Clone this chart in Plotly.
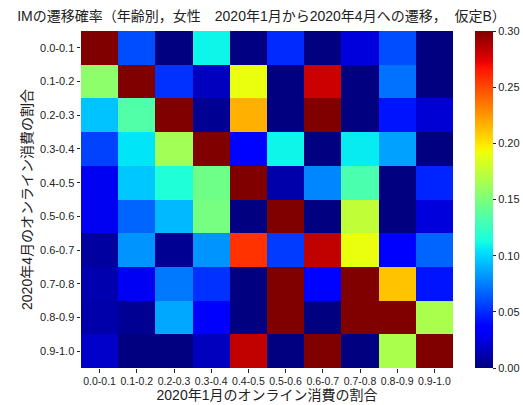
import numpy as np
import plotly.graph_objects as go

# Share-of-online-spending bins (Jan 2020 -> columns, Apr 2020 -> rows)
bins_jan = ["0.0-0.1", "0.1-0.2", "0.2-0.3", "0.3-0.4", "0.4-0.5",
            "0.5-0.6", "0.6-0.7", "0.7-0.8", "0.8-0.9", "0.9-1.0"]
bins_apr = ["0.0-0.1", "0.1-0.2", "0.2-0.3", "0.3-0.4", "0.4-0.5",
            "0.5-0.6", "0.6-0.7", "0.7-0.8", "0.8-0.9", "0.9-1.0"]

# Transition probabilities, one list per April bin
row_00_01 = [0.33, 0.060, 0.000, 0.110, 0.000, 0.050, 0.000, 0.024, 0.060, 0.000]
row_01_02 = [0.156, 0.33, 0.052, 0.016, 0.190, 0.000, 0.280, 0.000, 0.071, 0.000]
row_02_03 = [0.095, 0.134, 0.33, 0.005, 0.217, 0.000, 0.33, 0.000, 0.043, 0.022]
row_03_04 = [0.057, 0.105, 0.164, 0.33, 0.038, 0.110, 0.000, 0.107, 0.085, 0.000]
row_04_05 = [0.030, 0.096, 0.116, 0.145, 0.33, 0.011, 0.077, 0.132, 0.000, 0.048]
row_05_06 = [0.030, 0.067, 0.092, 0.148, 0.000, 0.33, 0.000, 0.175, 0.000, 0.024]
row_06_07 = [0.008, 0.081, 0.005, 0.081, 0.257, 0.055, 0.283, 0.190, 0.035, 0.067]
row_07_08 = [0.012, 0.030, 0.073, 0.052, 0.000, 0.33, 0.038, 0.33, 0.211, 0.043]
row_08_09 = [0.011, 0.005, 0.087, 0.035, 0.000, 0.33, 0.000, 0.33, 0.33, 0.167]
row_09_10 = [0.019, 0.000, 0.000, 0.016, 0.283, 0.000, 0.33, 0.000, 0.167, 0.33]

z = [row_00_01, row_01_02, row_02_03, row_03_04, row_04_05,
     row_05_06, row_06_07, row_07_08, row_08_09, row_09_10]

cb_ticks = [0.00, 0.05, 0.10, 0.15, 0.20, 0.25, 0.30]

# Classic "jet" colormap built from its piecewise-linear channel definitions
red_pts = ([0, 0.35, 0.66, 0.89, 1], [0, 0, 1, 1, 0.5])
green_pts = ([0, 0.125, 0.375, 0.64, 0.91, 1], [0, 0, 1, 1, 0, 0])
blue_pts = ([0, 0.11, 0.34, 0.65, 1], [0.5, 1, 1, 0, 0])
knots = sorted(set(red_pts[0] + green_pts[0] + blue_pts[0]))
jet = []
for k in knots:
    r = np.interp(k, *red_pts)
    g = np.interp(k, *green_pts)
    b = np.interp(k, *blue_pts)
    jet.append([k, f"rgb({round(r*255)},{round(g*255)},{round(b*255)})"])

font_family = "Liberation Sans, Noto Sans CJK JP, sans-serif"

fig = go.Figure(go.Heatmap(
    z=z, x=bins_jan, y=bins_apr,
    zmin=0, zmax=0.30, colorscale=jet,
    xgap=0, ygap=0,
    colorbar=dict(
        tickvals=cb_ticks, ticktext=[f"{v:.2f}" for v in cb_ticks],
        thickness=18, len=1.0, lenmode="fraction",
        x=1.059, xanchor="left", y=0.5, yanchor="middle",
        outlinewidth=0, ticks="outside", ticklen=3.5, tickcolor="#222",
        tickfont=dict(size=11, color="#222", family=font_family),
        xpad=0, ypad=0,
    ),
))

fig.update_layout(
    width=523, height=405,
    margin=dict(l=81, r=70, t=31, b=37, autoexpand=False),
    paper_bgcolor="white", plot_bgcolor="white",
    font=dict(family=font_family, color="#222"),
    title=dict(
        text="IMの遷移確率（年齢別，女性　2020年1月から2020年4月への遷移，  仮定B）",
        x=0.5, xanchor="center", y=0.96, yanchor="middle",
        font=dict(size=14, color="#222", family=font_family),
    ),
)
fig.update_xaxes(
    title=dict(text="2020年1月のオンライン消費の割合", font=dict(size=14), standoff=2),
    ticks="outside", ticklen=3.5, tickcolor="#222", tickangle=0,
    tickfont=dict(size=10.5), showline=False, showgrid=False, automargin=False,
)
fig.update_yaxes(
    title=dict(text="2020年4月のオンライン消費の割合", font=dict(size=14), standoff=4),
    autorange="reversed",
    ticks="outside", ticklen=3.5, tickcolor="#222",
    tickfont=dict(size=11), showline=False, showgrid=False, automargin=False,
)

fig.write_html("out.html")
